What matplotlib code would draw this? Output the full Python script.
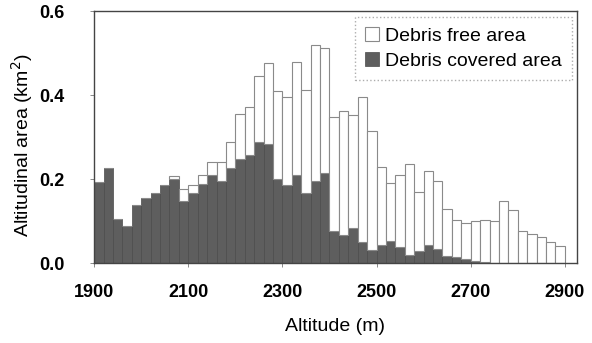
import matplotlib.pyplot as plt
import numpy as np

plt.rcParams['font.family'] = ['Liberation Sans', 'DejaVu Sans']

# 20 m altitude bands starting at 1900 m
band_start = list(range(1900, 2900, 20))

# debris covered area per band (km2)
covered = [0.193, 0.227, 0.106, 0.088, 0.138, 0.156, 0.167, 0.186, 0.200, 0.149,
           0.167, 0.189, 0.211, 0.196, 0.226, 0.248, 0.259, 0.289, 0.285, 0.200,
           0.186, 0.210, 0.168, 0.196, 0.215, 0.076, 0.068, 0.085, 0.050, 0.032,
           0.044, 0.053, 0.040, 0.020, 0.030, 0.045, 0.034, 0.018, 0.016, 0.010,
           0.006, 0.004, 0.002, 0.0, 0.0, 0.0, 0.0, 0.0, 0.0, 0.0]

# total area per band (km2), top of the white bar
total = [0.193, 0.227, 0.106, 0.088, 0.138, 0.156, 0.167, 0.186, 0.209, 0.176,
         0.186, 0.211, 0.242, 0.242, 0.289, 0.355, 0.373, 0.445, 0.476, 0.411,
         0.395, 0.480, 0.413, 0.520, 0.513, 0.349, 0.362, 0.354, 0.395, 0.314,
         0.230, 0.192, 0.210, 0.237, 0.169, 0.219, 0.195, 0.130, 0.104, 0.096,
         0.100, 0.103, 0.100, 0.148, 0.128, 0.077, 0.070, 0.064, 0.050, 0.042]

free = np.array(total) - np.array(covered)

fig = plt.figure(figsize=(5.92, 3.43), dpi=100)
ax = fig.add_axes([0.159, 0.232, 0.815, 0.735])

ax.bar(band_start, covered, width=20, align='edge', color='#5e5e5e',
       edgecolor='#4a4a4a', linewidth=0.5, label='Debris covered area')
ax.bar(band_start, free, bottom=covered, width=20, align='edge', color='white',
       edgecolor='#8a8a8a', linewidth=0.8, label='Debris free area')

ax.set_xlim(1900, 2925)
ax.set_ylim(0, 0.6)
ax.set_xticks([1900, 2100, 2300, 2500, 2700, 2900])
ax.set_yticks([0.0, 0.2, 0.4, 0.6])
ax.set_yticklabels(['0.0', '0.2', '0.4', '0.6'])
for lab in ax.get_xticklabels() + ax.get_yticklabels():
    lab.set_fontweight('bold')
ax.tick_params(labelsize=13, length=3, width=0.6, color='#777777')
ax.tick_params(axis='x', pad=12)
ax.tick_params(axis='y', pad=18)

ax.set_xlabel('Altitude (m)', fontsize=14, labelpad=12)
ax.set_ylabel('Altitudinal area (km$^2$)', fontsize=14)
ax.yaxis.set_label_coords(-0.122, 0.47)

for s in ax.spines.values():
    s.set_color('#444444')
    s.set_linewidth(1.0)

# legend with free area listed first
h, l = ax.get_legend_handles_labels()
leg = ax.legend(h[::-1], l[::-1], loc='upper right', fontsize=14, frameon=True,
                fancybox=False, handlelength=0.7, handleheight=0.7,
                handletextpad=0.35, borderpad=0.5, labelspacing=0.4,
                bbox_to_anchor=(0.99, 0.976), borderaxespad=0)
leg.get_frame().set_edgecolor('#999999')
leg.get_frame().set_linestyle(':')
leg.get_frame().set_linewidth(1.0)

fig.savefig('out.png', dpi=100)
